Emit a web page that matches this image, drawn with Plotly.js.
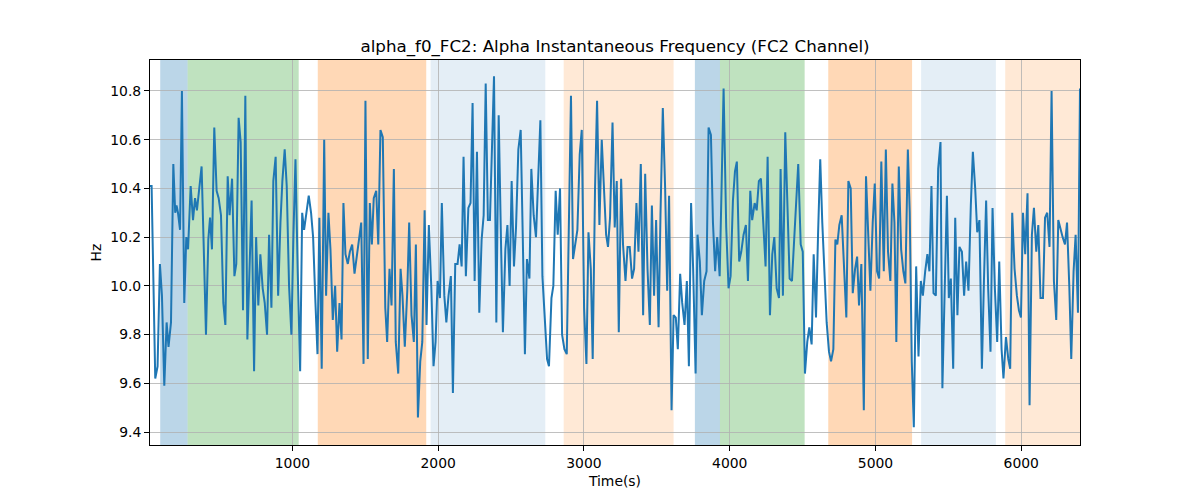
<!DOCTYPE html>
<html>
<head>
<meta charset="utf-8">
<script src="https://cdn.plot.ly/plotly-3.0.1.min.js"></script>
<style>html,body{margin:0;padding:0;background:#fff;}#chart{width:1200px;height:500px;}</style>
</head>
<body>
<div id="chart"></div>
<script>
// Time (s) of each sample
const times = [
  23,34,59,75,91,105,121,137,150,167,183,196,205,215,229,242,258,272,284,302,318,332,345,361,377,392,407,423,435,448,464,480,494,510,526,540,556,569,586,602,615,631,645,661,677,691,707,720,737,751,766,780,796,
  810,826,840,856,869,885,902,918,931,947,961,977,993,1007,1021,1036,1053,1067,1080,1096,1112,1128,1142,1158,1172,1185,1201,1218,1231,1247,1261,1277,1293,1307,1323,1337,1350,1364,1380,1394,1410,1426,1442,1455,1472,1488,1501,1517,1531,1545,1558,1575,1589,
  1604,1620,1637,1650,1666,1680,1696,1709,1726,1742,1755,1771,1788,1801,1817,1833,1847,1861,1877,1891,1907,1920,1936,1953,1968,1982,1996,2012,2025,2042,2056,2071,2087,2101,2117,2133,2147,2161,2174,2190,2207,2222,2236,2250,2266,2282,2298,2312,2326,2341,2355,2372,2383,
  2399,2415,2431,2444,2461,2475,2490,2504,2520,2534,2550,2566,2580,2595,2609,2626,2639,2655,2671,2685,2701,2715,2731,2747,2760,2777,2790,2806,2820,2836,2850,2866,2882,2896,2911,2925,2942,2955,2971,2985,3001,3017,3031,3047,3060,3076,3090,3106,3122,3136,3152,3165,
  3179,3196,3211,3225,3239,3255,3268,3285,3299,3314,3330,3344,3360,3374,3390,3406,3420,3436,3452,3466,3481,3495,3512,3525,3541,3557,3571,3584,3601,3615,3630,3644,3660,3674,3690,3706,3720,3735,3749,3766,3779,3795,3809,3825,3841,3855,3871,3885,3900,3914,3931,3944,3958,
  3976,3992,4006,4022,4036,4049,4065,4079,4095,4111,4125,4141,4154,4171,4185,4200,4214,4230,4246,4260,4276,4292,4306,4322,4338,4349,4365,4381,4398,4411,4427,4441,4457,4470,4487,4501,4516,4532,4546,4562,4576,4592,4606,4621,4635,4652,4665,4681,4695,4711,4725,4738,
  4752,4768,4784,4800,4814,4830,4844,4860,4874,4887,4903,4920,4935,4949,4965,4981,4995,5011,5025,5040,5057,5071,5086,5102,5116,5130,5143,5160,5176,5191,5205,5222,5235,5249,5263,5279,5295,5311,5325,5341,5356,5370,5384,5398,5414,5430,5446,5459,5476,5490,5503,5517,5533,
  5547,5562,5576,5593,5608,5622,5638,5654,5668,5684,5698,5713,5730,5744,5759,5773,5789,5803,5819,5835,5849,5865,5878,5895,5911,5924,5938,5954,5970,5984,5998,6012,6027,6043,6057,6073,6087,6103,6117,6132,6149,6163,6178,6194,6208,6224,6240,6254,6270,6284,6300,6314,6330,6343,6359,6373,6389,6403
];
// Instantaneous alpha frequency (Hz)
const freqHz = [
  10.41,10.41,9.62,9.67,10.09,9.96,9.59,9.85,9.75,9.85,10.50,10.30,10.33,10.30,10.23,10.80,9.93,10.20,10.15,10.41,10.27,10.36,10.31,10.40,10.49,10.15,9.80,10.19,10.28,10.15,10.65,10.39,10.36,10.29,9.93,9.84,10.45,10.29,10.44,10.04,10.09,10.69,10.59,9.90,10.78,9.78,10.11,10.35,9.65,10.20,9.92,10.13,9.99,
  9.93,9.80,10.21,9.91,10.43,10.53,9.96,10.26,10.43,10.56,10.41,10.00,9.80,10.21,10.52,10.07,9.65,10.30,10.23,10.30,10.37,10.30,10.20,9.93,9.72,10.28,9.66,10.60,9.96,10.30,10.15,9.86,10.00,9.73,9.93,9.78,10.34,10.13,10.09,10.14,10.17,10.05,10.13,10.18,10.26,9.68,10.76,9.70,10.34,10.17,10.36,10.39,10.17,
  10.64,10.61,9.91,9.77,10.07,9.92,10.48,9.77,9.64,10.07,9.96,9.75,9.98,10.26,9.88,9.77,10.17,9.46,9.69,9.77,10.31,9.84,10.25,9.99,9.67,9.77,10.02,9.95,10.34,9.96,9.85,9.96,10.04,9.56,10.09,10.09,10.17,10.08,10.53,10.04,10.32,10.34,10.75,10.02,10.55,9.89,10.19,10.29,10.83,10.27,10.27,10.59,10.86,
  9.85,10.70,10.18,9.81,10.15,10.25,10.00,10.43,10.08,10.24,10.56,10.64,10.21,9.72,10.11,10.03,10.48,10.29,10.20,10.40,10.68,10.04,9.88,9.70,9.67,9.95,10.00,10.39,10.21,10.40,9.80,9.74,9.72,10.22,10.78,10.11,10.17,10.23,10.54,10.64,9.91,9.68,10.22,10.07,9.70,10.40,10.76,10.25,10.60,10.41,10.21,10.16,
  10.28,10.67,10.24,10.43,9.81,10.44,10.17,10.02,10.16,10.16,10.03,10.07,10.34,10.14,10.50,9.88,10.46,10.07,9.84,10.33,9.96,10.27,9.83,10.29,10.73,10.40,9.98,10.37,9.49,9.88,9.87,9.74,10.05,9.93,9.84,10.02,9.67,10.34,10.07,9.64,10.21,10.10,9.88,10.02,10.06,10.65,10.62,10.26,10.06,10.20,10.04,10.40,10.81,
  10.24,9.99,10.04,10.35,10.47,10.51,10.10,10.14,10.21,10.25,10.02,10.39,10.27,10.34,10.31,10.43,10.44,10.26,10.08,10.53,9.88,10.13,10.20,9.99,9.95,10.48,9.96,10.63,10.29,10.03,10.02,10.18,10.40,10.50,10.17,10.14,9.64,9.77,9.83,9.76,10.13,9.87,10.21,10.52,10.26,9.99,9.85,9.73,9.69,9.74,10.19,10.17,
  10.25,10.29,10.04,9.87,10.43,10.40,9.97,10.07,10.12,9.92,10.09,9.49,10.45,10.26,9.98,10.26,10.42,10.06,10.03,10.51,10.06,10.56,10.14,10.02,10.42,10.26,9.77,10.49,10.15,10.06,10.01,10.56,10.30,9.69,9.42,10.08,9.71,10.02,9.96,10.06,10.13,10.06,10.41,9.97,9.96,10.48,10.59,9.58,9.96,10.37,9.95,10.03,9.66,
  10.28,9.88,10.16,10.14,9.96,10.10,9.98,10.33,10.55,10.40,10.22,10.27,9.66,10.02,10.35,9.99,9.73,10.32,9.99,9.77,10.10,9.74,9.62,9.79,9.70,9.66,10.30,10.07,9.96,9.90,9.87,10.30,10.13,10.38,9.51,10.21,10.32,10.14,10.25,9.95,9.95,10.28,10.30,10.16,10.80,10.02,9.86,10.27,10.23,10.20,10.17,10.26,9.99,9.70,10.06,10.21,9.89,10.81
];
// Shaded segments (s)
const segStart = [93, 281, 1174, 1948, 2861, 3761, 3933, 4676, 5313, 5890];
const segEnd   = [281, 1043, 1918, 2735, 3615, 3933, 4514, 5251, 5826, 6420];
const segKind  = ['blue', 'green', 'orange', 'paleBlue', 'paleOrange', 'blue', 'green', 'orange', 'paleBlue', 'paleOrange'];
const yTicks = [9.4, 9.6, 9.8, 10.0, 10.2, 10.4, 10.6, 10.8];

const kindStyle = {
  blue: 'rgba(31,119,180,0.3)',
  green: 'rgba(44,160,44,0.3)',
  orange: 'rgba(255,127,14,0.3)',
  paleBlue: 'rgba(31,119,180,0.12)',
  paleOrange: 'rgba(255,127,14,0.17)'
};

const shapes = segStart.map((s, i) => ({
  type: 'rect', xref: 'x', yref: 'paper', x0: s, x1: segEnd[i], y0: 0, y1: 1,
  fillcolor: kindStyle[segKind[i]], line: {width: 0}, layer: 'below'
}));

const font = {family: 'DejaVu Sans, sans-serif', color: '#000'};

const trace = {
  x: times, y: freqHz, type: 'scatter', mode: 'lines',
  line: {color: '#1f77b4', width: 2}, hoverinfo: 'skip', showlegend: false
};

const layout = {
  width: 1200, height: 500,
  margin: {l: 150, r: 120, t: 60, b: 55, pad: 0},
  paper_bgcolor: '#fff', plot_bgcolor: '#fff',
  font: Object.assign({size: 13.9}, font),
  title: {text: 'alpha_f0_FC2: Alpha Instantaneous Frequency (FC2 Channel)',
          font: Object.assign({size: 16.7}, font),
          x: 0.5, xref: 'paper', xanchor: 'center', y: 0.908, yref: 'container', yanchor: 'middle'},
  xaxis: {
    range: [times[0], times[times.length - 1]], tick0: 0, dtick: 1000,
    showgrid: true, gridcolor: '#b0b0b0', gridwidth: 0.8, zeroline: false,
    showline: true, mirror: true, linecolor: '#000', linewidth: 1,
    ticks: 'outside', ticklen: 5, tickcolor: '#000', tickwidth: 1,
    tickfont: Object.assign({size: 13.9}, font), automargin: false,
    title: {text: 'Time(s)', font: Object.assign({size: 13.9}, font), standoff: 6}
  },
  yaxis: {
    range: [9.347, 10.927], tickvals: yTicks, tickformat: '.1f',
    showgrid: true, gridcolor: '#b0b0b0', gridwidth: 0.8, zeroline: false,
    showline: true, mirror: true, linecolor: '#000', linewidth: 1,
    ticks: 'outside', ticklen: 5, tickcolor: '#000', tickwidth: 1,
    tickfont: Object.assign({size: 13.9}, font), automargin: false,
    title: {text: 'Hz', font: Object.assign({size: 13.9}, font), standoff: 5}
  },
  shapes: shapes
};

Plotly.newPlot('chart', [trace], layout, {displayModeBar: false, staticPlot: true});
</script>
</body>
</html>
